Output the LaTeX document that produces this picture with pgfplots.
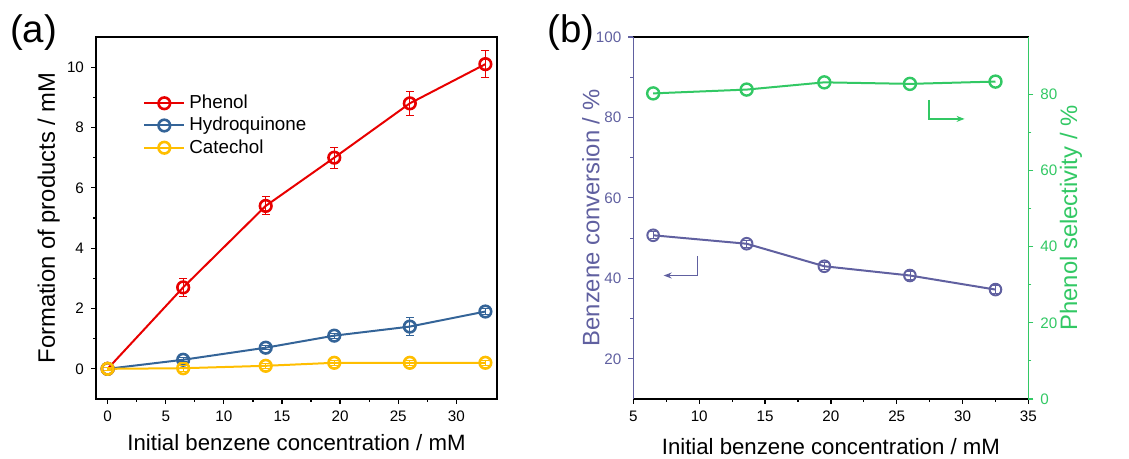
\documentclass[border=0pt]{standalone}
\usepackage{pgfplots}
\pgfplotsset{compat=1.18}
\usepackage{fontspec}
\setmainfont{Liberation Sans}
\usetikzlibrary{arrows.meta}
\definecolor{cPhenol}{RGB}{232,0,0}
\definecolor{cHydro}{RGB}{52,100,152}
\definecolor{cCat}{RGB}{255,190,0}
\definecolor{cConv}{RGB}{96,96,160}
\definecolor{cSel}{RGB}{50,200,100}

\newcommand{\xlabfont}{\fontsize{11.1}{13}\selectfont}
\newcommand{\ylabfont}{\fontsize{11.9}{14}\selectfont}

\pgfplotsset{
  base/.style={
    scale only axis, clip=false, unbounded coords=jump,
    /pgf/number format/assume math mode=true,
    tick label style={font=\fontsize{7.6}{9}\selectfont},
    tick align=outside, major tick length=2.5pt, minor tick length=1.5pt,
    every tick/.style={line width=0.6pt},
    axis line style={line width=0.8pt},
  },
  ser/.style={line width=1pt, mark=o, mark size=2.9pt,
    mark options={line width=1.3pt, fill=white, solid}},
  % error bars: value - err to value + err, one segment per point
  errseg/.style={forget plot, line width=0.5pt, mark=-, mark size=2pt,
    mark options={solid, line width=0.5pt}},
}

\begin{document}
\begin{tikzpicture}
\useasboundingbox (0,0) rectangle (564.5pt,229.5pt);

% panel (a)
\begin{axis}[base,
  at={(48pt,30pt)}, anchor=south west, width=200.5pt, height=181pt,
  xmin=-1, xmax=33.5, ymin=-1, ymax=11,
  xtick={0,5,...,30}, minor x tick num=1,
  ytick={0,2,...,10}, minor y tick num=1,
  xtick pos=bottom, ytick pos=left,
  every axis x label/.style={at={(axis description cs:0.5,-0.141)}, anchor=base, font=\xlabfont},
  every axis y label/.style={at={(axis description cs:-0.118,0.5)}, rotate=90, anchor=center, font=\ylabfont},
  xlabel={Initial benzene concentration / mM},
  ylabel={Formation of products / mM},
  legend style={draw=none, fill=none, at={(axis description cs:0.117,0.852)}, anchor=north west,
    font=\fontsize{9.4}{11}\selectfont, row sep=-1.2pt, inner sep=0pt},
  legend cell align=left,
  legend image code/.code={\draw[mark repeat=2, mark phase=2] plot coordinates {(0pt,0pt) (10pt,0pt) (20pt,0pt)};},
]
\addplot[ser, color=cPhenol]
  coordinates {(0,0) (6.5,2.7) (13.6,5.4) (19.5,7.0) (26,8.8) (32.5,10.1)};
\addlegendentry{Phenol}
\addplot[ser, color=cHydro]
  coordinates {(0,0) (6.5,0.3) (13.6,0.7) (19.5,1.1) (26,1.4) (32.5,1.9)};
\addlegendentry{Hydroquinone}
\addplot[ser, color=cCat]
  coordinates {(0,0) (6.5,0.02) (13.6,0.1) (19.5,0.2) (26,0.2) (32.5,0.2)};
\addlegendentry{Catechol}
\addplot[errseg, color=cPhenol] coordinates {
  (6.5,2.4) (6.5,3.0) (nan,nan) (13.6,5.1) (13.6,5.7) (nan,nan)
  (19.5,6.65) (19.5,7.35) (nan,nan) (26,8.4) (26,9.2) (nan,nan)
  (32.5,9.65) (32.5,10.55)};
\addplot[errseg, color=cHydro] coordinates {
  (6.5,0.24) (6.5,0.36) (nan,nan) (13.6,0.64) (13.6,0.76) (nan,nan)
  (19.5,1.02) (19.5,1.18) (nan,nan) (26,1.1) (26,1.7) (nan,nan)
  (32.5,1.8) (32.5,2.0)};
\addplot[errseg, color=cCat] coordinates {
  (0,-0.05) (0,0.05) (nan,nan) (6.5,-0.08) (6.5,0.12) (nan,nan)
  (13.6,0.02) (13.6,0.18) (nan,nan) (19.5,0.12) (19.5,0.28) (nan,nan)
  (26,0.12) (26,0.28) (nan,nan) (32.5,0.12) (32.5,0.28)};
\end{axis}
\node[font=\fontsize{19.2}{23}\selectfont] at (16.8pt,213pt) {(a)};

% panel (b), left axis
\begin{axis}[base,
  at={(316.7pt,30pt)}, anchor=south west, width=197.5pt, height=181pt,
  xmin=5, xmax=35, ymin=10, ymax=100,
  xtick={5,10,...,35}, minor x tick num=1,
  ytick={20,40,...,100}, minor y tick num=1,
  xtick pos=bottom, ytick pos=left,
  y tick label style={text=cConv}, ytick style={draw=cConv},
  every axis x label/.style={at={(axis description cs:0.5,-0.152)}, anchor=base, font=\xlabfont},
  every axis y label/.style={at={(axis description cs:-0.108,0.5)}, rotate=90, anchor=center, text=cConv, font=\ylabfont},
  xlabel={Initial benzene concentration / mM},
  ylabel={Benzene conversion / \%},
]
\addplot[ser, color=cConv, mark options={line width=1pt, fill=white, solid}]
  coordinates {(6.5,50.7) (13.6,48.6) (19.5,43.0) (26,40.7) (32.5,37.2)};
\addplot[errseg, color=cConv, line width=0.4pt, mark size=1.8pt] coordinates {
  (6.5,49.8) (6.5,51.6) (nan,nan) (13.6,47.7) (13.6,49.5) (nan,nan)
  (19.5,42.1) (19.5,43.9) (nan,nan) (26,39.8) (26,41.6) (nan,nan)
  (32.5,36.3) (32.5,38.1)};
\draw[cConv, line width=0.8pt] (rel axis cs:0,0) -- (rel axis cs:0,1);
\draw[cConv, line width=0.6pt, -{Stealth[length=4pt,width=3pt]}] (axis cs:9.85,45.6) -- (axis cs:9.85,40.7) -- (axis cs:7.3,40.7);
\end{axis}

% panel (b), right axis
\begin{axis}[base,
  at={(316.7pt,30pt)}, anchor=south west, width=197.5pt, height=181pt,
  xmin=5, xmax=35, ymin=0, ymax=95,
  axis x line=none, axis y line*=right,
  ytick={0,20,...,80}, minor y tick num=1,
  y axis line style={draw=cSel, line width=0.8pt},
  y tick label style={text=cSel}, ytick style={draw=cSel},
  every axis y label/.style={at={(axis description cs:1.108,0.5)}, rotate=90, anchor=center, text=cSel, font=\ylabfont},
  ylabel={Phenol selectivity / \%},
]
\addplot[ser, color=cSel, mark size=3pt, mark options={line width=1.2pt, fill=white, solid}]
  coordinates {(6.5,80.2) (13.6,81.2) (19.5,83.1) (26,82.7) (32.5,83.3)};
\draw[cSel, line width=0.6pt, -{Stealth[length=4pt,width=3pt]}] (axis cs:27.45,78.5) -- (axis cs:27.45,73.5) -- (axis cs:30.15,73.5);
\end{axis}
\node[font=\fontsize{19.2}{23}\selectfont] at (285.5pt,213pt) {(b)};
\end{tikzpicture}
\end{document}
